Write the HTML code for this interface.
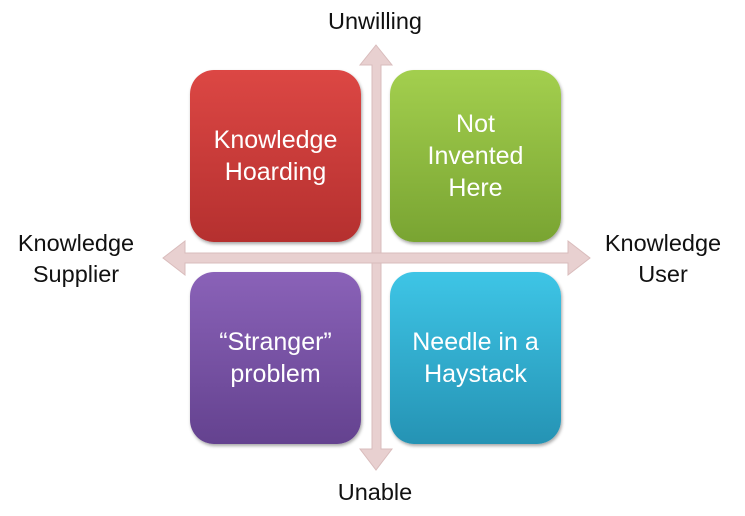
<!DOCTYPE html>
<html><head><style>
body{margin:0;width:745px;height:516px;background:#fff;position:relative;overflow:hidden;font-family:"Liberation Sans",sans-serif}
.b{position:absolute;width:171px;height:172px;border-radius:24px;color:#fff;font-size:25px;line-height:32px;display:flex;align-items:center;justify-content:center;text-align:center;box-shadow:1px 2px 3px rgba(0,0,0,.35)}
.l{position:absolute;font-size:23.5px;color:#111;text-align:center;line-height:31px}
</style></head><body>
<svg width="745" height="516" style="position:absolute;left:0;top:0">
<g fill="#e8d0d0" stroke="#d9bcbc" stroke-width="1">
<polygon points="372,65 360,65 376,45 392,65 381,65 381,449 392,449 376,470 360,449 372,449"/>
<polygon points="185,253 185,241 163,258 185,275 185,263 568,263 568,275 590,258 568,241 568,253"/>
</g></svg>
<div class="b" style="left:190px;top:70px;background:linear-gradient(#dc4744,#b5302f)">Knowledge<br>Hoarding</div>
<div class="b" style="left:390px;top:70px;background:linear-gradient(#a3cf4e,#79a432)">Not<br>Invented<br>Here</div>
<div class="b" style="left:190px;top:272px;background:linear-gradient(#8a62b8,#64428f)">“Stranger”<br>problem</div>
<div class="b" style="left:390px;top:272px;background:linear-gradient(#3ec5e6,#2593b4)">Needle in a<br>Haystack</div>
<div class="l" style="left:300px;top:6px;width:150px">Unwilling</div>
<div class="l" style="left:300px;top:477px;width:150px">Unable</div>
<div class="l" style="left:0px;top:228px;width:152px">Knowledge<br>Supplier</div>
<div class="l" style="left:586px;top:228px;width:154px">Knowledge<br>User</div>
</body></html>
